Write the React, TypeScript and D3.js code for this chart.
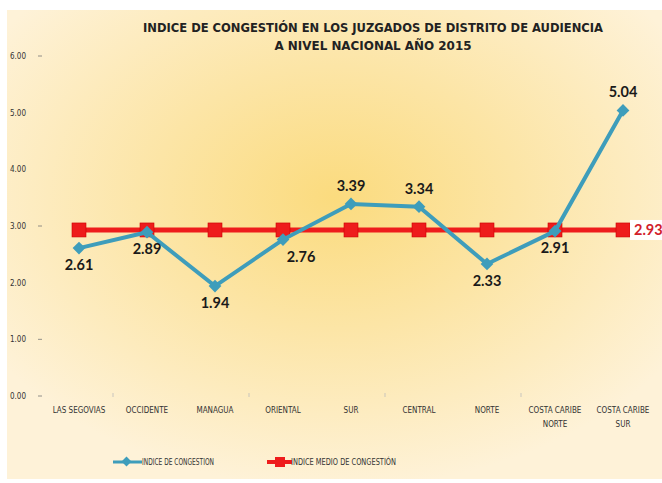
import React from "react";
import * as d3 from "d3";

const categories = [
  "LAS SEGOVIAS",
  "OCCIDENTE",
  "MANAGUA",
  "ORIENTAL",
  "SUR",
  "CENTRAL",
  "NORTE",
  "COSTA CARIBE NORTE",
  "COSTA CARIBE SUR",
];
const categoryLines = [
  ["LAS SEGOVIAS"],
  ["OCCIDENTE"],
  ["MANAGUA"],
  ["ORIENTAL"],
  ["SUR"],
  ["CENTRAL"],
  ["NORTE"],
  ["COSTA CARIBE", "NORTE"],
  ["COSTA CARIBE", "SUR"],
];
const congestion = [2.61, 2.89, 1.94, 2.76, 3.39, 3.34, 2.33, 2.91, 5.04];
const mediaCongestion = [2.93, 2.93, 2.93, 2.93, 2.93, 2.93, 2.93, 2.93, 2.93];
// where each data label sits relative to its point
const labelPlace = ["below", "below", "below", "belowRight", "above", "above", "below", "below", "above"];
const yTicks = [0, 1, 2, 3, 4, 5, 6];
const titleLines = [
  "INDICE DE CONGESTIÓN EN LOS JUZGADOS DE DISTRITO DE AUDIENCIA",
  "A NIVEL NACIONAL AÑO 2015",
];
const legendNames = ["INDICE DE CONGESTION", "INDICE MEDIO DE CONGESTIÓN"];

const width = 662;
const height = 483;
const TEAL = "#3E9DBB";
const RED = "#EE1C1C";

export default function App() {
  const x = d3.scaleBand().domain(categories).range([45, 657]);
  const y = d3.scaleLinear().domain([0, 6]).range([396, 56]);
  const cx = (c: string) => (x(c) as number) + x.bandwidth() / 2;

  const line = d3
    .line<number>()
    .x((_, i) => cx(categories[i]))
    .y((d) => y(d));

  const font = "'Liberation Sans Narrow', 'DejaVu Sans Condensed', 'Open Sans', sans-serif";
  const labelFont = "'Lato', 'Open Sans', 'DejaVu Sans', sans-serif";

  return (
    <svg
      width={width}
      height={height}
      style={{ position: "absolute", left: 0, top: 0, display: "block" }}
    >
      <defs>
        <radialGradient id="bg" cx="0.5" cy="0.4" r="0.62">
          <stop offset="0" stopColor="#FBDB7E" />
          <stop offset="0.45" stopColor="#FCE5A6" />
          <stop offset="1" stopColor="#FEF2D8" />
        </radialGradient>
      </defs>
      <rect x={0} y={0} width={width} height={height} fill="#fff" />
      <rect x={7} y={10} width={width - 7} height={height - 14} fill="url(#bg)" />

      {titleLines.map((t, i) => (
        <text
          key={t}
          x={373}
          y={32 + i * 18}
          textAnchor="middle"
          fontFamily={font}
          fontSize={13}
          fontWeight="bold"
          fill="#222"
          textLength={i === 0 ? 460 : 197}
          lengthAdjust="spacingAndGlyphs"
        >
          {t}
        </text>
      ))}

      {/* y axis labels */}
      {yTicks.map((t) => (
        <g key={t}>
          <text x={10} y={y(t) + 3} fontFamily={font} fontSize={8} fill="#333">
            {d3.format(".2f")(t)}
          </text>
          {t % 3 === 0 || t === 1 ? (
            <line x1={38} x2={42} y1={y(t)} y2={y(t)} stroke="#777" strokeWidth={0.8} />
          ) : null}
        </g>
      ))}

      {/* faint x ticks */}
      {categories.slice(1).map((c, i) =>
        i % 2 === 0 ? (
          <line
            key={c}
            x1={x(c) as number}
            x2={x(c) as number}
            y1={393}
            y2={397}
            stroke="#bbb"
            strokeWidth={0.8}
          />
        ) : null
      )}

      {/* x labels */}
      {categories.map((c, i) =>
        categoryLines[i].map((l, j) => (
          <text
            key={c + j}
            x={cx(c)}
            y={413 + j * 14}
            textAnchor="middle"
            fontFamily={font}
            fontSize={8}
            fill="#333"
          >
            {l}
          </text>
        ))
      )}

      {/* mean line */}
      <path d={line(mediaCongestion) || ""} fill="none" stroke={RED} strokeWidth={5} />
      {mediaCongestion.map((v, i) => (
        <rect
          key={i}
          x={cx(categories[i]) - 7}
          y={y(v) - 7}
          width={14}
          height={14}
          fill={RED}
          stroke="#c00"
          strokeWidth={0.6}
        />
      ))}

      {/* congestion line */}
      <path d={line(congestion) || ""} fill="none" stroke={TEAL} strokeWidth={4} />
      {congestion.map((v, i) => (
        <rect
          key={i}
          x={cx(categories[i]) - 4.5}
          y={y(v) - 4.5}
          width={9}
          height={9}
          fill={TEAL}
          transform={`rotate(45 ${cx(categories[i])} ${y(v)})`}
        />
      ))}
      {congestion.map((v, i) => {
        const p = labelPlace[i];
        const dx = p === "belowRight" ? 18 : 0;
        const dy = p === "above" ? -13 : 22;
        return (
          <text
            key={i}
            x={cx(categories[i]) + dx}
            y={y(v) + dy}
            textAnchor="middle"
            fontFamily={labelFont}
            fontSize={14.5}
            fontWeight="bold"
            fill="#1a1a1a"
          >
            {d3.format(".2f")(v)}
          </text>
        );
      })}

      {/* mean value label */}
      <rect x={630} y={y(2.93) - 10} width={40} height={20} fill="#fff" />
      <text
        x={634}
        y={y(2.93) + 5}
        fontFamily={labelFont}
        fontSize={14.5}
        fontWeight="bold"
        fill="#D2202A"
      >
        {d3.format(".2f")(mediaCongestion[8])}
      </text>

      {/* legend */}
      <g>
        <line x1={113} x2={142} y1={462} y2={462} stroke={TEAL} strokeWidth={3} />
        <rect x={123} y={458} width={7} height={7} fill={TEAL} transform="rotate(45 126.5 461.5)" />
        <text
          x={142}
          y={465}
          fontFamily={font}
          fontSize={8}
          fill="#333"
          textLength={72}
          lengthAdjust="spacingAndGlyphs"
        >
          {legendNames[0]}
        </text>
        <line x1={267} x2={292} y1={462} y2={462} stroke={RED} strokeWidth={4} />
        <rect x={275} y={457} width={10} height={10} fill={RED} />
        <text
          x={291}
          y={465}
          fontFamily={font}
          fontSize={8}
          fill="#333"
          textLength={105}
          lengthAdjust="spacingAndGlyphs"
        >
          {legendNames[1]}
        </text>
      </g>
    </svg>
  );
}
